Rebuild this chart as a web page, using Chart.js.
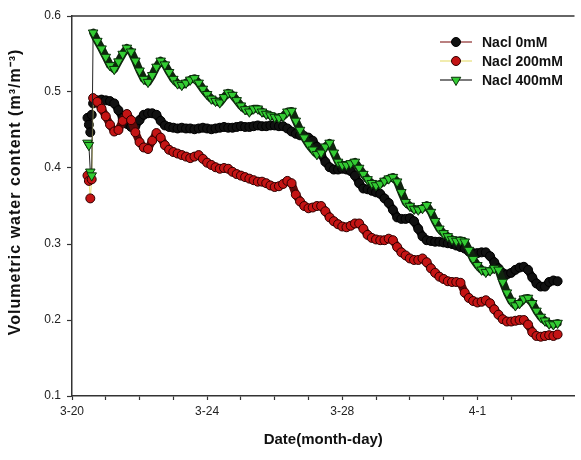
<!DOCTYPE html>
<html>
<head>
<meta charset="utf-8">
<script src="https://cdn.jsdelivr.net/npm/chart.js@4/dist/chart.umd.min.js"></script>
<style>
  html, body { margin: 0; padding: 0; background: #fff; overflow: hidden; }
  #wrap { width: 581px; height: 460px; position: relative; }
</style>
</head>
<body>
<div id="wrap"><canvas id="chart" width="581" height="460"></canvas></div>
<script>
// Sampling times, hours after 3-20 00:00
const hours = [11, 12, 13, 14,
  15, 18, 21, 24, 27, 30, 33, 36, 39, 42, 45, 48, 51, 54, 57, 60, 63, 66, 69, 72,
  75, 78, 81, 84, 87, 90, 93, 96, 99, 102, 105, 108, 111, 114, 117, 120, 123, 126, 129, 132,
  135, 138, 141, 144, 147, 150, 153, 156, 159, 162, 165, 168, 171, 174, 177, 180, 183, 186, 189, 192,
  195, 198, 201, 204, 207, 210, 213, 216, 219, 222, 225, 228, 231, 234, 237, 240, 243, 246, 249, 252,
  255, 258, 261, 264, 267, 270, 273, 276, 279, 282, 285, 288, 291, 294, 297, 300, 303, 306, 309, 312,
  315, 318, 321, 324, 327, 330, 333, 336, 339, 342, 345];

// Volumetric water content (m3/m3)
const nacl0 = [0.466, 0.457, 0.447, 0.470,
  0.485, 0.489, 0.490, 0.489, 0.488, 0.485, 0.476, 0.466, 0.458, 0.454, 0.455, 0.463, 0.470, 0.472, 0.472, 0.470, 0.462, 0.456, 0.454, 0.453,
  0.452, 0.453, 0.452, 0.452, 0.451, 0.452, 0.453, 0.452, 0.451, 0.452, 0.453, 0.454, 0.453, 0.453, 0.454, 0.455, 0.454, 0.454, 0.455, 0.456,
  0.455, 0.455, 0.456, 0.456, 0.455, 0.455, 0.452, 0.448, 0.445, 0.443, 0.442, 0.440, 0.436, 0.428, 0.418, 0.408, 0.401, 0.398, 0.398, 0.399,
  0.398, 0.396, 0.390, 0.380, 0.373, 0.372, 0.370, 0.368, 0.366, 0.360, 0.354, 0.345, 0.335, 0.333, 0.333, 0.334, 0.330, 0.320, 0.310, 0.305,
  0.304, 0.303, 0.303, 0.302, 0.301, 0.300, 0.298, 0.296, 0.294, 0.290, 0.288, 0.288, 0.289, 0.289, 0.284, 0.276, 0.268, 0.262, 0.260, 0.262,
  0.266, 0.269, 0.270, 0.266, 0.256, 0.248, 0.244, 0.244, 0.250, 0.252, 0.251];

const nacl200 = [0.390, 0.383, 0.360, 0.385,
  0.492, 0.487, 0.478, 0.468, 0.457, 0.448, 0.450, 0.462, 0.471, 0.463, 0.447, 0.434, 0.427, 0.425, 0.436, 0.446, 0.440, 0.430, 0.424, 0.421,
  0.419, 0.417, 0.415, 0.413, 0.415, 0.417, 0.412, 0.407, 0.404, 0.401, 0.399, 0.400, 0.399, 0.395, 0.392, 0.390, 0.388, 0.386, 0.384, 0.382,
  0.382, 0.380, 0.377, 0.375, 0.376, 0.379, 0.383, 0.380, 0.365, 0.356, 0.350, 0.347, 0.348, 0.350, 0.350, 0.343, 0.335, 0.330, 0.326, 0.323,
  0.322, 0.324, 0.327, 0.327, 0.320, 0.312, 0.308, 0.306, 0.305, 0.305, 0.307, 0.305, 0.296, 0.289, 0.285, 0.281, 0.279, 0.279, 0.281, 0.276,
  0.268, 0.262, 0.257, 0.254, 0.251, 0.250, 0.250, 0.249, 0.236, 0.229, 0.225, 0.223, 0.224, 0.226, 0.222, 0.214, 0.207, 0.201, 0.198, 0.198,
  0.199, 0.200, 0.200, 0.194, 0.184, 0.179, 0.178, 0.179, 0.180, 0.179, 0.181];

const nacl400 = [0.433, 0.430, 0.395, 0.390,
  0.578, 0.567, 0.557, 0.546, 0.535, 0.530, 0.540, 0.550, 0.558, 0.553, 0.541, 0.528, 0.517, 0.513, 0.522, 0.533, 0.541, 0.536, 0.526, 0.517,
  0.511, 0.509, 0.512, 0.516, 0.518, 0.512, 0.504, 0.497, 0.491, 0.488, 0.486, 0.493, 0.499, 0.496, 0.489, 0.482, 0.477, 0.474, 0.478, 0.478,
  0.474, 0.471, 0.469, 0.467, 0.466, 0.468, 0.474, 0.475, 0.462, 0.450, 0.440, 0.431, 0.424, 0.418, 0.420, 0.428, 0.433, 0.420, 0.408, 0.404,
  0.404, 0.406, 0.408, 0.400, 0.392, 0.385, 0.380, 0.377, 0.379, 0.383, 0.386, 0.388, 0.382, 0.368, 0.355, 0.350, 0.346, 0.345, 0.347, 0.351,
  0.342, 0.330, 0.320, 0.314, 0.310, 0.306, 0.304, 0.305, 0.303, 0.292, 0.280, 0.272, 0.266, 0.263, 0.265, 0.268, 0.266, 0.250, 0.236, 0.225,
  0.219, 0.222, 0.228, 0.229, 0.222, 0.212, 0.204, 0.199, 0.195, 0.194, 0.196];

const seriesNames = ['Nacl 0mM', 'Nacl 200mM', 'Nacl 400mM'];
const dateTicks = [0, 96, 192, 288];
const dateTickLabels = ['3-20', '3-24', '3-28', '4-1'];

const FONT = "'Liberation Sans', Arial, Helvetica, sans-serif";
const AXIS = '#333';
// thin connecting-line colours (legend + first readings)
const thinColors = ['#8b2a2a', '#e8e07a', '#222222'];
// dense trace colours underneath the markers
const traceColors = ['#0a0a0a', '#5e0a0a', '#10240f'];
const FIRST_THICK = 4; // readings before the irrigation jump are joined by a thin line

const toPoints = vals => hours.map((h, i) => ({ x: h, y: vals[i] }));

const traceSegment = i => ({
  borderWidth: ctx => (ctx.p0DataIndex < FIRST_THICK ? 1 : 8),
  borderColor: ctx => (ctx.p0DataIndex < FIRST_THICK ? thinColors[i] : traceColors[i])
});

// Frame line along the top of the plot
const topFrame = {
  id: 'topFrame',
  afterDraw(chart) {
    const { ctx, chartArea } = chart;
    ctx.save();
    ctx.strokeStyle = AXIS;
    ctx.lineWidth = 1.5;
    ctx.beginPath();
    ctx.moveTo(chartArea.left, chartArea.top);
    ctx.lineTo(chartArea.right, chartArea.top);
    ctx.stroke();
    ctx.restore();
  }
};

// Rotated y-axis title
const yTitle = {
  id: 'yTitle',
  afterDraw(chart) {
    const { ctx } = chart;
    ctx.save();
    ctx.translate(16, 192);
    ctx.rotate(-Math.PI / 2);
    ctx.fillStyle = '#111';
    ctx.font = 'bold 16px ' + FONT;
    if ('letterSpacing' in ctx) ctx.letterSpacing = '1px';
    ctx.textAlign = 'center';
    ctx.textBaseline = 'middle';
    ctx.fillText('Volumetric water content (m³/m⁻³)', 0, 0);
    ctx.restore();
  }
};

// Legend with line + marker samples, upper right
const lineLegend = {
  id: 'lineLegend',
  afterDraw(chart) {
    const { ctx } = chart;
    ctx.save();
    chart.data.datasets.forEach((ds, i) => {
      const y = 42 + i * 19;
      ctx.strokeStyle = thinColors[i];
      ctx.lineWidth = 1.2;
      ctx.beginPath();
      ctx.moveTo(440, y);
      ctx.lineTo(472, y);
      ctx.stroke();
      ctx.fillStyle = ds.pointBackgroundColor;
      ctx.strokeStyle = ds.pointBorderColor;
      ctx.lineWidth = 1;
      Chart.helpers.drawPoint(ctx, {
        pointStyle: ds.pointStyle,
        rotation: ds.pointRotation || 0,
        radius: ds.pointRadius,
        borderWidth: 1
      }, 456, y);
      ctx.fillStyle = '#111';
      ctx.font = 'bold 14px ' + FONT;
      ctx.textBaseline = 'middle';
      ctx.textAlign = 'left';
      ctx.fillText(ds.label, 482, y + 1);
    });
    ctx.restore();
  }
};

const common = {
  borderJoinStyle: 'round',
  borderCapStyle: 'round',
  pointBorderWidth: 1
};

new Chart(document.getElementById('chart'), {
  type: 'line',
  data: {
    datasets: [
      Object.assign({
        label: seriesNames[0],
        data: toPoints(nacl0),
        borderColor: traceColors[0],
        segment: traceSegment(0),
        pointStyle: 'circle',
        pointRadius: 4.5,
        pointBackgroundColor: '#111111',
        pointBorderColor: '#000000',
        order: 3
      }, common),
      Object.assign({
        label: seriesNames[1],
        data: toPoints(nacl200),
        borderColor: traceColors[1],
        segment: traceSegment(1),
        pointStyle: 'circle',
        pointRadius: 4.5,
        pointBackgroundColor: '#c41414',
        pointBorderColor: '#2e0000',
        order: 2
      }, common),
      Object.assign({
        label: seriesNames[2],
        data: toPoints(nacl400),
        borderColor: traceColors[2],
        segment: traceSegment(2),
        pointStyle: 'triangle',
        pointRotation: 180,
        pointRadius: 5.5,
        pointBackgroundColor: '#33cc33',
        pointBorderColor: '#0a300a',
        order: 1
      }, common)
    ]
  },
  options: {
    responsive: false,
    animation: false,
    layout: { padding: { top: 16, left: 0, right: 0, bottom: 0 } },
    plugins: { legend: { display: false }, tooltip: { enabled: false } },
    scales: {
      x: {
        type: 'linear',
        min: 0,
        max: 357,
        afterFit: s => { s.height = 64; },
        afterBuildTicks: s => { s.ticks = s.ticks.filter(t => t.value % 24 === 0); },
        border: { color: AXIS, width: 1.5 },
        grid: { drawOnChartArea: false, tickLength: 4, color: AXIS, tickWidth: 1.2 },
        ticks: {
          stepSize: 24,
          autoSkip: false,
          maxRotation: 0,
          padding: 4,
          color: '#222',
          font: { family: FONT, size: 12 },
          callback: v => {
            const i = dateTicks.indexOf(v);
            return i >= 0 ? dateTickLabels[i] : '';
          }
        },
        title: {
          display: true,
          text: 'Date(month-day)',
          color: '#111',
          font: { family: FONT, size: 15, weight: 'bold' },
          padding: { top: 0, bottom: 11 }
        }
      },
      y: {
        min: 0.1,
        max: 0.6,
        afterFit: s => { s.width = 72; },
        border: { color: AXIS, width: 1.5 },
        grid: { drawOnChartArea: false, tickLength: 5, color: AXIS, tickWidth: 1.2 },
        ticks: {
          stepSize: 0.1,
          padding: 6,
          color: '#222',
          font: { family: FONT, size: 12 },
          callback: v => v.toFixed(1)
        }
      }
    }
  },
  plugins: [topFrame, yTitle, lineLegend]
});
</script>
</body>
</html>
